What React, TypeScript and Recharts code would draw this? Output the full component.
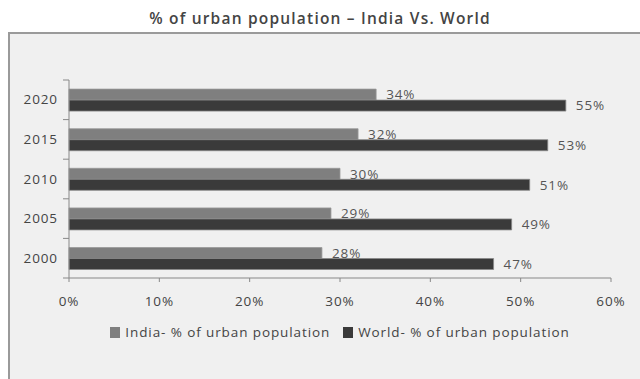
import React from 'react';
import { BarChart, Bar, XAxis, YAxis, Legend, LabelList } from 'recharts';

const years = ['2020', '2015', '2010', '2005', '2000'];
const indiaUrban = [34, 32, 30, 29, 28];
const worldUrban = [55, 53, 51, 49, 47];
const percentTicks = [0, 10, 20, 30, 40, 50, 60];

const data = years.map((year, i) => ({ year, india: indiaUrban[i], world: worldUrban[i] }));

const FONT = '"Open Sans", "DejaVu Sans", sans-serif';
const TEXT_SIZE = 13.5;
const TRACKING = 0.9;
const PLOT_LEFT = 69;
const PLOT_TOP = 80;
const PLOT_BOTTOM = 278;
const BAND = (PLOT_BOTTOM - PLOT_TOP) / years.length;

// year label plus the tick marks that sit between categories
const YearTick = (props: any) => {
  const { y, payload, index } = props;
  return (
    <g>
      <text
        x={PLOT_LEFT - 11}
        y={y}
        dy={4.5}
        textAnchor="end"
        fill="#444"
        fontSize={TEXT_SIZE}
        fontFamily={FONT}
        letterSpacing={TRACKING}
      >
        {payload.value}
      </text>
      <line x1={PLOT_LEFT - 6} x2={PLOT_LEFT} y1={y - BAND / 2} y2={y - BAND / 2} stroke="#888" />
      {index === years.length - 1 && (
        <line x1={PLOT_LEFT - 6} x2={PLOT_LEFT} y1={y + BAND / 2} y2={y + BAND / 2} stroke="#888" />
      )}
    </g>
  );
};

const LegendRow = (props: any) => {
  const { payload } = props;
  return (
    <div
      style={{
        display: 'flex',
        justifyContent: 'center',
        gap: 13,
        fontFamily: FONT,
        fontSize: TEXT_SIZE,
        letterSpacing: TRACKING,
        color: '#444',
      }}
    >
      {(payload || []).map((p: any) => (
        <span key={p.value} style={{ display: 'flex', alignItems: 'center' }}>
          <span style={{ width: 10, height: 11, background: p.color, marginRight: 5, display: 'inline-block' }} />
          {p.value}
        </span>
      ))}
    </div>
  );
};

export default function App() {
  return (
    <div style={{ position: 'absolute', left: 0, top: 0, width: 640, height: 379, background: '#fff', overflow: 'hidden' }}>
      <div
        style={{
          position: 'absolute',
          left: 0,
          top: 7,
          width: 640,
          textAlign: 'center',
          fontFamily: FONT,
          fontSize: 15.5,
          fontWeight: 600,
          letterSpacing: 1.2,
          color: '#444',
        }}
      >
        % of urban population – India Vs. World
      </div>
      <div
        style={{
          position: 'absolute',
          left: 8,
          top: 32,
          width: 660,
          height: 380,
          background: '#f0f0f0',
          borderLeft: '2px solid #9a9a9a',
          borderTop: '2px solid #9a9a9a',
        }}
      />
      <div style={{ position: 'absolute', left: 0, top: 0 }}>
        <BarChart
          width={640}
          height={379}
          data={data}
          layout="vertical"
          margin={{ top: PLOT_TOP, right: 29, left: 9, bottom: 71 }}
          barCategoryGap="23%"
          barGap={0}
        >
          <XAxis
            type="number"
            domain={[0, 60]}
            ticks={percentTicks}
            tickFormatter={(v: number) => `${v}%`}
            height={30}
            stroke="#888"
            tickSize={4}
            tickMargin={14}
            tick={{ fill: '#444', fontSize: TEXT_SIZE, fontFamily: FONT, letterSpacing: TRACKING }}
          />
          <YAxis type="category" dataKey="year" width={60} stroke="#888" tickLine={false} tick={<YearTick />} />
          <Legend
            layout="horizontal"
            verticalAlign="middle"
            align="center"
            content={<LegendRow />}
            wrapperStyle={{ top: 323, left: 20, width: 640 }}
          />
          <Bar dataKey="india" name="India- % of urban population" fill="#7f7f7f" stroke="#999" strokeWidth={0.8} isAnimationActive={false}>
            <LabelList
              dataKey="india"
              position="right"
              offset={10}
              formatter={(v: any) => `${v}%`}
              fill="#555"
              fontSize={TEXT_SIZE}
              fontFamily={FONT}
              letterSpacing={TRACKING}
            />
          </Bar>
          <Bar dataKey="world" name="World- % of urban population" fill="#3a3a3a" stroke="#888" strokeWidth={0.8} isAnimationActive={false}>
            <LabelList
              dataKey="world"
              position="right"
              offset={10}
              formatter={(v: any) => `${v}%`}
              fill="#555"
              fontSize={TEXT_SIZE}
              fontFamily={FONT}
              letterSpacing={TRACKING}
            />
          </Bar>
        </BarChart>
      </div>
    </div>
  );
}
